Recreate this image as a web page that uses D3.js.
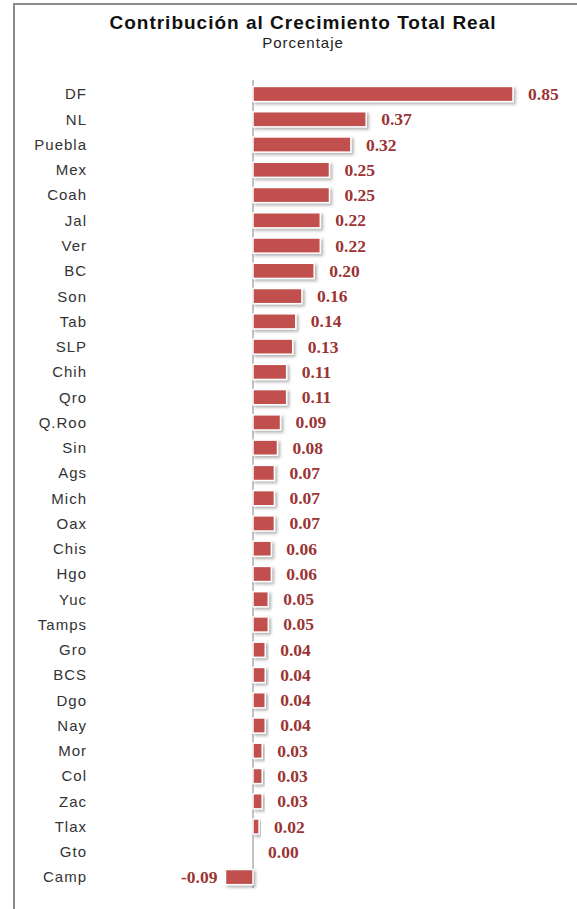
<!DOCTYPE html>
<html>
<head>
<meta charset="utf-8">
<script src="https://cdn.jsdelivr.net/npm/d3@7"></script>
<style>
  body { margin: 0; background: #fff; }
</style>
</head>
<body>
<div id="chart"></div>
<script>
// estados y contribución (porcentaje)
const estados = ['DF', 'NL', 'Puebla', 'Mex', 'Coah', 'Jal', 'Ver', 'BC', 'Son', 'Tab',
    'SLP', 'Chih', 'Qro', 'Q.Roo', 'Sin', 'Ags', 'Mich', 'Oax', 'Chis', 'Hgo',
    'Yuc', 'Tamps', 'Gro', 'BCS', 'Dgo', 'Nay', 'Mor', 'Col', 'Zac', 'Tlax', 'Gto', 'Camp'];
const valores = [0.85, 0.37, 0.32, 0.25, 0.25, 0.22, 0.22, 0.20, 0.16, 0.14,
    0.13, 0.11, 0.11, 0.09, 0.08, 0.07, 0.07, 0.07, 0.06, 0.06,
    0.05, 0.05, 0.04, 0.04, 0.04, 0.04, 0.03, 0.03, 0.03, 0.02, 0.00, -0.09];
const titulo = 'Contribución al Crecimiento Total Real';
const subtitulo = 'Porcentaje';

const data = estados.map((e, i) => ({ estado: e, valor: valores[i] }));

const width = 577,
    height = 909;

const svg = d3.select('#chart')
    .append('svg')
    .attr('width', width)
    .attr('height', height);

// sombra de las barras
const defs = svg.append('defs');
const sombra = defs.append('filter')
    .attr('id', 'sombra')
    .attr('x', '-20%').attr('y', '-40%')
    .attr('width', '150%').attr('height', '200%');
sombra.append('feDropShadow')
    .attr('dx', 2).attr('dy', 2)
    .attr('stdDeviation', 1.5)
    .attr('flood-color', '#555')
    .attr('flood-opacity', 0.45);

// marco
svg.append('path')
    .attr('d', `M14,${height} V4 H${width}`)
    .attr('fill', 'none')
    .attr('stroke', '#8c8c8c')
    .attr('stroke-width', 2);

// títulos
svg.append('text')
    .attr('x', 303).attr('y', 29)
    .attr('text-anchor', 'middle')
    .style('font-family', 'Liberation Sans, Arial, sans-serif')
    .style('font-weight', 'bold')
    .style('font-size', '19px')
    .style('letter-spacing', '1px')
    .attr('fill', '#111')
    .text(titulo);

svg.append('text')
    .attr('x', 303).attr('y', 48)
    .attr('text-anchor', 'middle')
    .style('font-family', 'Liberation Sans, Arial, sans-serif')
    .style('font-size', '15px')
    .style('letter-spacing', '1px')
    .attr('fill', '#222')
    .text(subtitulo);

// escalas
const x = d3.scaleLinear()
    .domain([0, 0.85])
    .range([253, 513]);

const y = d3.scaleBand()
    .domain(estados)
    .range([81.4, 81.4 + 25.26 * estados.length])
    .paddingInner(0.4)
    .paddingOuter(0.2);

// eje vertical
svg.append('line')
    .attr('x1', x(0)).attr('x2', x(0))
    .attr('y1', 80).attr('y2', 888)
    .attr('stroke', '#9a9a9a')
    .attr('stroke-width', 1.2);

// etiquetas de categorías
svg.append('g')
    .selectAll('text')
    .data(data)
    .enter()
    .append('text')
    .attr('x', 87)
    .attr('y', d => y(d.estado) + y.bandwidth() / 2)
    .attr('dy', '0.36em')
    .attr('text-anchor', 'end')
    .style('font-family', 'Liberation Sans, Arial, sans-serif')
    .style('font-size', '15px')
    .style('letter-spacing', '1px')
    .attr('fill', '#333')
    .text(d => d.estado);

// barras
svg.append('g')
    .selectAll('rect')
    .data(data.filter(d => d.valor !== 0))
    .enter()
    .append('rect')
    .attr('x', d => Math.min(x(0), x(d.valor)))
    .attr('y', d => y(d.estado))
    .attr('width', d => Math.abs(x(d.valor) - x(0)))
    .attr('height', y.bandwidth())
    .attr('fill', '#c0504d')
    .attr('stroke', '#fff')
    .attr('stroke-width', 1.5)
    .attr('filter', 'url(#sombra)');

// etiquetas de valores
svg.append('g')
    .selectAll('text')
    .data(data)
    .enter()
    .append('text')
    .attr('x', d => d.valor < 0 ? x(d.valor) - 8 : x(d.valor) + 15)
    .attr('y', d => y(d.estado) + y.bandwidth() / 2)
    .attr('dy', '0.34em')
    .attr('text-anchor', d => d.valor < 0 ? 'end' : 'start')
    .style('font-family', 'Liberation Serif, Times New Roman, serif')
    .style('font-weight', 'bold')
    .style('font-size', '17.5px')
    .attr('fill', '#9b3434')
    .text(d => d.valor.toFixed(2));
</script>
</body>
</html>
